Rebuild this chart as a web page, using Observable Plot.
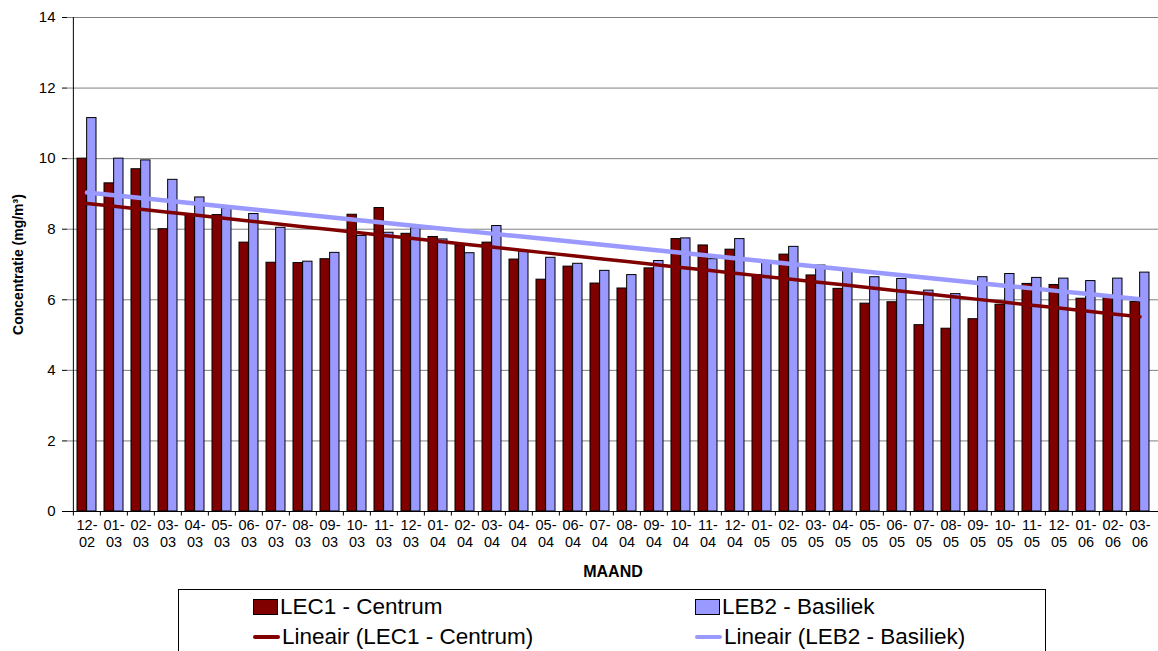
<!DOCTYPE html>
<html><head><meta charset="utf-8">
<script src="https://cdn.jsdelivr.net/npm/d3@7"></script>
<script src="https://cdn.jsdelivr.net/npm/@observablehq/plot@0.6"></script>
<style>
body{margin:0;background:#fff;font-family:"Liberation Sans",Arial,sans-serif;}
#wrap{position:relative;width:1158px;height:651px;overflow:hidden;}
#legend{position:absolute;left:178px;top:589px;width:868px;height:80px;border:1px solid #000;box-sizing:border-box;}
.item{position:absolute;font-size:22.5px;display:flex;align-items:center;height:26px;white-space:nowrap;color:#000;}
.sw{display:inline-block;width:25px;height:16px;border:1px solid #000;margin-right:2px;box-sizing:border-box;}
.ln{display:inline-block;width:27px;height:4px;margin-right:2px;border-radius:2px;}
</style></head>
<body><div id="wrap"><div id="chart"></div><div id="legend"></div></div>
<script>
const months = ["12-02","01-03","02-03","03-03","04-03","05-03","06-03","07-03","08-03","09-03","10-03","11-03","12-03",
"01-04","02-04","03-04","04-04","05-04","06-04","07-04","08-04","09-04","10-04","11-04","12-04",
"01-05","02-05","03-05","04-05","05-05","06-05","07-05","08-05","09-05","10-05","11-05","12-05",
"01-06","02-06","03-06"];
const lec1 = [10.0,9.3,9.7,8.0,8.4,8.4,7.62,7.05,7.04,7.15,8.41,8.6,7.87,7.78,7.54,7.62,7.14,6.57,6.94,6.46,6.32,6.89,7.72,7.54,7.42,6.7,7.28,6.69,6.31,5.89,5.93,5.28,5.18,5.45,5.86,6.45,6.42,6.03,6.06,5.94];
const leb2 = [11.15,10.0,9.95,9.4,8.9,8.59,8.43,8.04,7.08,7.33,7.81,7.9,8.03,7.71,7.32,8.09,7.38,7.19,7.02,6.82,6.70,7.10,7.74,7.15,7.72,7.05,7.50,6.97,6.83,6.64,6.59,6.26,6.16,6.64,6.73,6.62,6.60,6.53,6.60,6.77];
const yTicks = [0,2,4,6,8,10,12,14];
const seriesNames = ["LEC1 - Centrum","LEB2 - Basiliek"];
const trendNames = ["Lineair (LEC1 - Centrum)","Lineair (LEB2 - Basiliek)"];
const colors = ["#800000","#9999FF"];

function trend(vals){
  const n = vals.length, xs = d3.range(n);
  const mx = d3.mean(xs), my = d3.mean(vals);
  const b = d3.sum(xs, i => (i-mx)*(vals[i]-my)) / d3.sum(xs, i => (i-mx)**2);
  const a = my - b*mx;
  return xs.map(i => ({m: months[i], v: a + b*i}));
}
const rows = months.map((m,i) => ({m, a: lec1[i], b: leb2[i]}));
const W = 1158, mL = 67, mR = 0;
const bw = (W - mL - mR) / months.length;

const chart = Plot.plot({
  width: W, height: 585,
  marginLeft: mL, marginRight: mR, marginTop: 17, marginBottom: 74,
  style: {fontFamily: '"Liberation Sans", Arial, sans-serif', color: "#000", background: "#fff"},
  x: {domain: months, padding: 0, axis: null},
  y: {domain: [0,14], axis: null},
  marks: [
    Plot.ruleY(yTicks.filter(d => d > 0), {stroke: "#808080", strokeWidth: 1}),
    Plot.barY(rows, {x: "m", y: "a", fill: colors[0], stroke: "#000", strokeWidth: 1, insetLeft: 4, insetRight: bw/2}),
    Plot.barY(rows, {x: "m", y: "b", fill: colors[1], stroke: "#000", strokeWidth: 1, insetLeft: bw/2, insetRight: 4}),
    Plot.line(trend(lec1), {x: "m", y: "v", stroke: colors[0], strokeWidth: 3.5}),
    Plot.line(trend(leb2), {x: "m", y: "v", stroke: colors[1], strokeWidth: 4.5}),
    Plot.ruleY([0], {stroke: "#000"}),
    Plot.ruleX([months[0]], {dx: -bw/2, y1: 0, y2: 14, stroke: "#000"}),
    Plot.ruleX(months, {dx: -bw/2, y1: 0, y2: -0.13, stroke: "#000"}),
    Plot.axisY({ticks: yTicks, tickSize: 5, tickPadding: 7, fontSize: 15, label: null}),
    Plot.axisX({tickSize: 0, tickPadding: 6, fontSize: 14.5, lineHeight: 1.2, label: null,
      tickFormat: d => d.replace("-", "-\n")}),
    Plot.text(["Concentratie (mg/m³)"], {frameAnchor: "left", textAnchor: "middle", lineAnchor: "middle", rotate: -90, dx: -49, fontWeight: "bold", fontSize: 14}),
    Plot.text(["MAAND"], {frameAnchor: "bottom", textAnchor: "middle", lineAnchor: "middle", dy: 60, fontWeight: "bold", fontSize: 16})
  ]
});
document.getElementById("chart").appendChild(chart);

const lg = document.getElementById("legend");
const pos = [[74,4],[516,4],[74,34],[516,34]];
[0,1].forEach(i => {
  const d = document.createElement("div"); d.className = "item";
  d.style.left = pos[i][0]+"px"; d.style.top = pos[i][1]+"px";
  d.innerHTML = `<span class="sw" style="background:${colors[i]}"></span>${seriesNames[i]}`;
  lg.appendChild(d);
  const e = document.createElement("div"); e.className = "item";
  e.style.left = pos[i+2][0]+"px"; e.style.top = pos[i+2][1]+"px";
  e.innerHTML = `<span class="ln" style="background:${colors[i]}"></span>${trendNames[i]}`;
  lg.appendChild(e);
});
</script></body></html>
